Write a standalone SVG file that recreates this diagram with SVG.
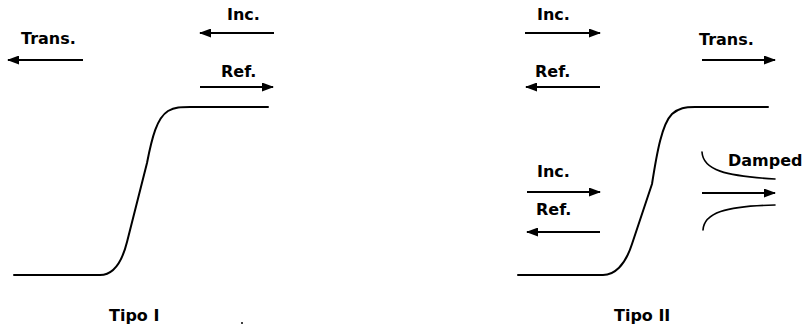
<svg xmlns="http://www.w3.org/2000/svg" width="807" height="332" viewBox="0 0 807 332">
  <defs>
    <marker id="head" viewBox="0 0 12 9" refX="11" refY="4.5" markerWidth="12" markerHeight="9" markerUnits="userSpaceOnUse" orient="auto">
      <path d="M0,0 L12,4.5 L0,9 Z" fill="#000"/>
    </marker>
    <style>
      .lbl { font-family: "DejaVu Sans", Verdana, sans-serif; font-size: 16px; font-weight: bold; fill: #000; }
      .arw { stroke: #000; stroke-width: 2.2; fill: none; marker-end: url(#head); }
      .crv { stroke: #000; stroke-width: 2; fill: none; stroke-linecap: round; stroke-linejoin: round; }
      .dmp { stroke: #000; stroke-width: 1.6; fill: none; stroke-linecap: round; }
    </style>
  </defs>

  <rect width="807" height="332" fill="#fff"/>

  <!-- Type I: step profile with incident, reflected and transmitted waves -->
  <g id="tipo1">
    <path class="crv" d="M14,275 L100,275 C112,275 121,266 127,242 L147,163 C152,137 157,118 168,111 C175,107 181,107 190,107 L268,107"/>
    <text class="lbl" x="21" y="44">Trans.</text>
    <text class="lbl" x="227" y="20">Inc.</text>
    <text class="lbl" x="221" y="77">Ref.</text>
    <text class="lbl" x="109" y="321">Tipo I</text>
    <circle cx="242" cy="323" r="1" fill="#000"/>
  </g>

  <!-- Type II: step profile with a damped transmitted wave -->
  <g id="tipo2">
    <path class="crv" d="M518,275 L603,275 C614,275 625,266 632,244 L652,184 C657,152 662,124 672,114 C679,108 685,107 695,107 L768,107"/>
    <text class="lbl" x="537" y="20">Inc.</text>
    <text class="lbl" x="535" y="77">Ref.</text>
    <text class="lbl" x="699" y="45">Trans.</text>
    <text class="lbl" x="728" y="166">Damped</text>
    <text class="lbl" x="537" y="177">Inc.</text>
    <text class="lbl" x="536" y="215">Ref.</text>
    <text class="lbl" x="614" y="321">Tipo II</text>
    <path class="dmp" d="M702,152 C703,170 725,176 775,179"/>
    <path class="dmp" d="M703,230 C704,213 725,206 775,205"/>
  </g>

  <!-- wave direction arrows -->
  <g id="connectors">
    <line class="arw" x1="83" y1="60" x2="8" y2="60"/>
    <line class="arw" x1="274" y1="33" x2="200" y2="33"/>
    <line class="arw" x1="200" y1="87" x2="273" y2="87"/>
    <line class="arw" x1="525" y1="33" x2="600" y2="33"/>
    <line class="arw" x1="600" y1="87" x2="526" y2="87"/>
    <line class="arw" x1="702" y1="60" x2="775" y2="60"/>
    <line class="arw" x1="527" y1="192" x2="600" y2="192"/>
    <line class="arw" x1="600" y1="232" x2="527" y2="232"/>
    <line class="arw" x1="702" y1="193" x2="775" y2="193"/>
  </g>
</svg>
